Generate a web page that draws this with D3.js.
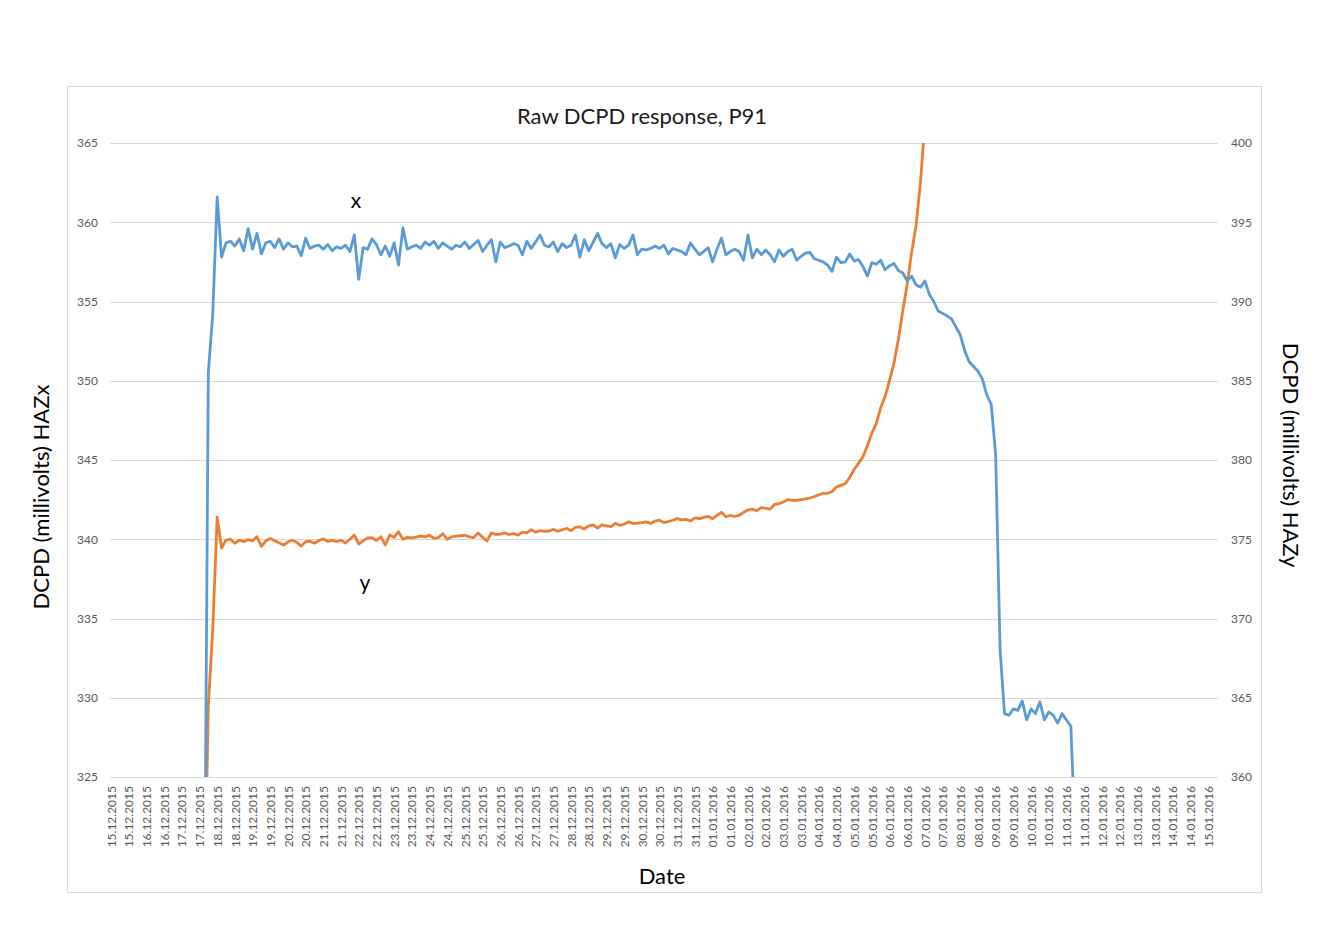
<!DOCTYPE html>
<html><head><meta charset="utf-8">
<script src="https://cdn.jsdelivr.net/npm/d3@7"></script>
<style>body{margin:0;background:#fff;} svg{display:block;font-family:Lato,"Open Sans",sans-serif;}</style>
</head><body><svg id="c" width="1329" height="931"></svg>
<script>
// ---- data ----
const tickLabels = ["15.12.2015","15.12.2015","16.12.2015","16.12.2015","17.12.2015","17.12.2015","18.12.2015","18.12.2015","19.12.2015","19.12.2015","20.12.2015","20.12.2015","21.12.2015","21.12.2015","22.12.2015","22.12.2015","23.12.2015","23.12.2015","24.12.2015","24.12.2015","25.12.2015","25.12.2015","26.12.2015","26.12.2015","27.12.2015","27.12.2015","28.12.2015","28.12.2015","29.12.2015","29.12.2015","30.12.2015","30.12.2015","31.12.2015","31.12.2015","01.01.2016","01.01.2016","02.01.2016","02.01.2016","03.01.2016","03.01.2016","04.01.2016","04.01.2016","05.01.2016","05.01.2016","06.01.2016","06.01.2016","07.01.2016","07.01.2016","08.01.2016","08.01.2016","09.01.2016","09.01.2016","10.01.2016","10.01.2016","11.01.2016","11.01.2016","12.01.2016","12.01.2016","13.01.2016","13.01.2016","14.01.2016","14.01.2016","15.01.2016"];
const leftTicks = [325,330,335,340,345,350,355,360,365];
const rightTicks = [360,365,370,375,380,385,390,395,400];
const axisStart = new Date(2015,11,15,0,0);
const axisEnd = new Date(2016,0,15,0,0);
const seriesStart = new Date(2015,11,17,15,0);  // first sample
const stepHours = 3;                               // sampling interval

// HAZx (left axis), millivolts
const hazX = [310,350.5,354.2,361.6,357.8,358.7,358.8,358.5,358.95,358.2,
359.6,358.3,359.3,358.0,358.7,358.8,358.4,358.95,358.3,358.7,
358.45,358.5,357.9,359.0,358.35,358.5,358.55,358.3,358.6,358.2,
358.45,358.35,358.55,358.15,359.2,356.4,358.4,358.3,358.95,358.6,
357.95,358.5,357.85,358.7,357.3,359.65,358.3,358.45,358.55,358.35,
358.75,358.55,358.8,358.35,358.7,358.5,358.3,358.55,358.45,358.75,
358.35,358.6,358.85,358.15,358.55,358.9,357.5,358.75,358.4,358.5,
358.65,358.55,357.95,358.8,358.35,358.75,359.2,358.55,358.45,358.75,
358.15,358.65,358.4,358.55,359.2,357.8,358.9,358.2,358.75,359.3,
358.65,358.4,358.65,357.75,358.6,358.35,358.55,359.2,357.95,358.3,
358.25,358.35,358.5,358.35,358.55,358.0,358.35,358.25,358.15,357.95,
358.7,358.3,357.95,358.15,358.4,357.5,358.3,359.0,357.95,358.15,
358.3,358.15,357.6,359.2,357.75,358.3,357.95,358.25,357.95,357.5,
358.25,357.85,358.15,358.3,357.6,357.85,358.05,358.1,357.7,357.6,
357.5,357.3,356.9,357.8,357.45,357.5,358.0,357.55,357.65,357.2,
356.6,357.45,357.35,357.6,357.0,357.25,357.4,356.95,356.8,356.3,
356.6,356.05,355.9,356.3,355.45,355.0,354.4,354.25,354.1,353.9,
353.4,352.9,351.9,351.2,350.9,350.6,350.1,349.1,348.5,345.3,
333.0,329.0,328.9,329.3,329.2,329.8,328.6,329.3,329.0,329.75,
328.6,329.1,328.9,328.4,329.0,328.6,328.2,321,300];

// HAZy (right axis), millivolts
const hazY = [350,364.5,369.3,376.4,374.45,374.95,375.0,374.75,374.95,374.85,
374.98,374.9,375.16,374.55,374.9,375.05,374.9,374.78,374.64,374.82,
374.95,374.8,374.57,374.85,374.88,374.75,374.92,375.02,374.87,374.93,
374.85,374.95,374.76,375.0,375.27,374.7,374.9,375.08,375.1,374.92,
375.16,374.64,375.27,375.12,375.48,375.0,375.12,375.08,375.13,375.2,
375.15,375.26,375.05,375.1,375.35,375.0,375.15,375.2,375.22,375.25,
375.15,375.1,375.4,375.12,374.9,375.4,375.3,375.32,375.4,375.3,
375.36,375.26,375.45,375.4,375.6,375.45,375.55,375.5,375.52,375.62,
375.5,375.6,375.68,375.55,375.75,375.78,375.65,375.85,375.9,375.7,
375.9,375.85,375.8,376.0,375.88,375.95,376.1,376.0,376.02,376.05,
376.1,376.0,376.15,376.2,376.05,376.12,376.2,376.3,376.22,376.25,
376.15,376.35,376.3,376.38,376.45,376.3,376.5,376.7,376.42,376.5,
376.45,376.5,376.7,376.85,376.9,376.8,377.0,376.95,376.9,377.2,
377.25,377.35,377.5,377.45,377.45,377.5,377.55,377.6,377.7,377.8,
377.9,377.9,378.0,378.3,378.4,378.5,378.9,379.4,379.8,380.2,
380.9,381.7,382.3,383.3,384.0,385.0,386.1,387.6,389.4,391.1,
393.1,394.8,397.5,401.3,404.5,408];

// ---- chart ----
const svg = d3.select("#c");
const P = {l:110, r:1218, t:143, b:777};
const x = d3.scaleTime().domain([axisStart, axisEnd]).range([111, 1208]);
const yL = d3.scaleLinear().domain([325,365]).range([P.b, P.t]);
const yR = d3.scaleLinear().domain([360,400]).range([P.b, P.t]);
const nMax = Math.max(hazX.length, hazY.length);
const times = d3.range(nMax).map(i => d3.timeHour.offset(seriesStart, i*stepHours));
const tickDates = tickLabels.map((_, i) => d3.timeHour.offset(axisStart, 12*i));

svg.append("rect").attr("x",67.5).attr("y",86.5).attr("width",1194).attr("height",806)
  .attr("fill","#fff").attr("stroke","#d9d9d9");

svg.append("defs").append("clipPath").attr("id","clip").append("rect")
  .attr("x",P.l).attr("y",P.t).attr("width",P.r-P.l).attr("height",P.b-P.t);

// gridlines
svg.append("g").selectAll("line").data(leftTicks).join("line")
  .attr("x1",P.l).attr("x2",P.r).attr("y1",d=>Math.round(yL(d))+0.5).attr("y2",d=>Math.round(yL(d))+0.5)
  .attr("stroke","#d9d9d9").attr("stroke-width",1);

const styleAxis = g => { g.select(".domain").remove(); g.selectAll("text").attr("fill","#595959").style("font-size","12px").style("font-family","Lato"); };

svg.append("g").attr("transform",`translate(${P.l},0)`)
  .call(d3.axisLeft(yL).tickValues(leftTicks).tickSize(0).tickPadding(12)).call(styleAxis);
svg.append("g").attr("transform",`translate(${P.r},0)`)
  .call(d3.axisRight(yR).tickValues(rightTicks).tickSize(0).tickPadding(13)).call(styleAxis);

const xa = svg.append("g").attr("transform",`translate(0,${P.b})`)
  .call(d3.axisBottom(x).tickValues(tickDates).tickFormat((d,i)=>tickLabels[i]).tickSize(0)).call(styleAxis);
xa.selectAll("text").attr("transform","rotate(-90)").attr("x",-9).attr("y",0).attr("dy","0.35em").style("text-anchor","end");

// lines
const lineL = d3.line().x((d,i)=>x(times[i])).y(d=>yL(d));
const lineR = d3.line().x((d,i)=>x(times[i])).y(d=>yR(d));
const gl = svg.append("g").attr("clip-path","url(#clip)");
gl.append("path").datum(hazY).attr("d",lineR).attr("fill","none").attr("stroke","#ed7d31").attr("stroke-width",2.8).attr("stroke-linejoin","round");
gl.append("path").datum(hazX).attr("d",lineL).attr("fill","none").attr("stroke","#5b9bd5").attr("stroke-width",2.8).attr("stroke-linejoin","round");

// texts
const T = (tx,ty,s,size,rot,col) => svg.append("text").attr("transform",`translate(${tx},${ty}) rotate(${rot||0})`)
  .attr("text-anchor","middle").attr("dominant-baseline","central").style("font-size",size+"px").attr("fill",col||"#000").text(s);
T(642,115,"Raw DCPD response, P91",22,0,"#1a1a1a");
T(662,875,"Date",22,0);
T(40,497,"DCPD (millivolts) HAZx",22,-90);
T(1291,455,"DCPD (millivolts) HAZy",22,90);
T(356,199,"x",21,0);
T(365,581,"y",21,0);
</script></body></html>
